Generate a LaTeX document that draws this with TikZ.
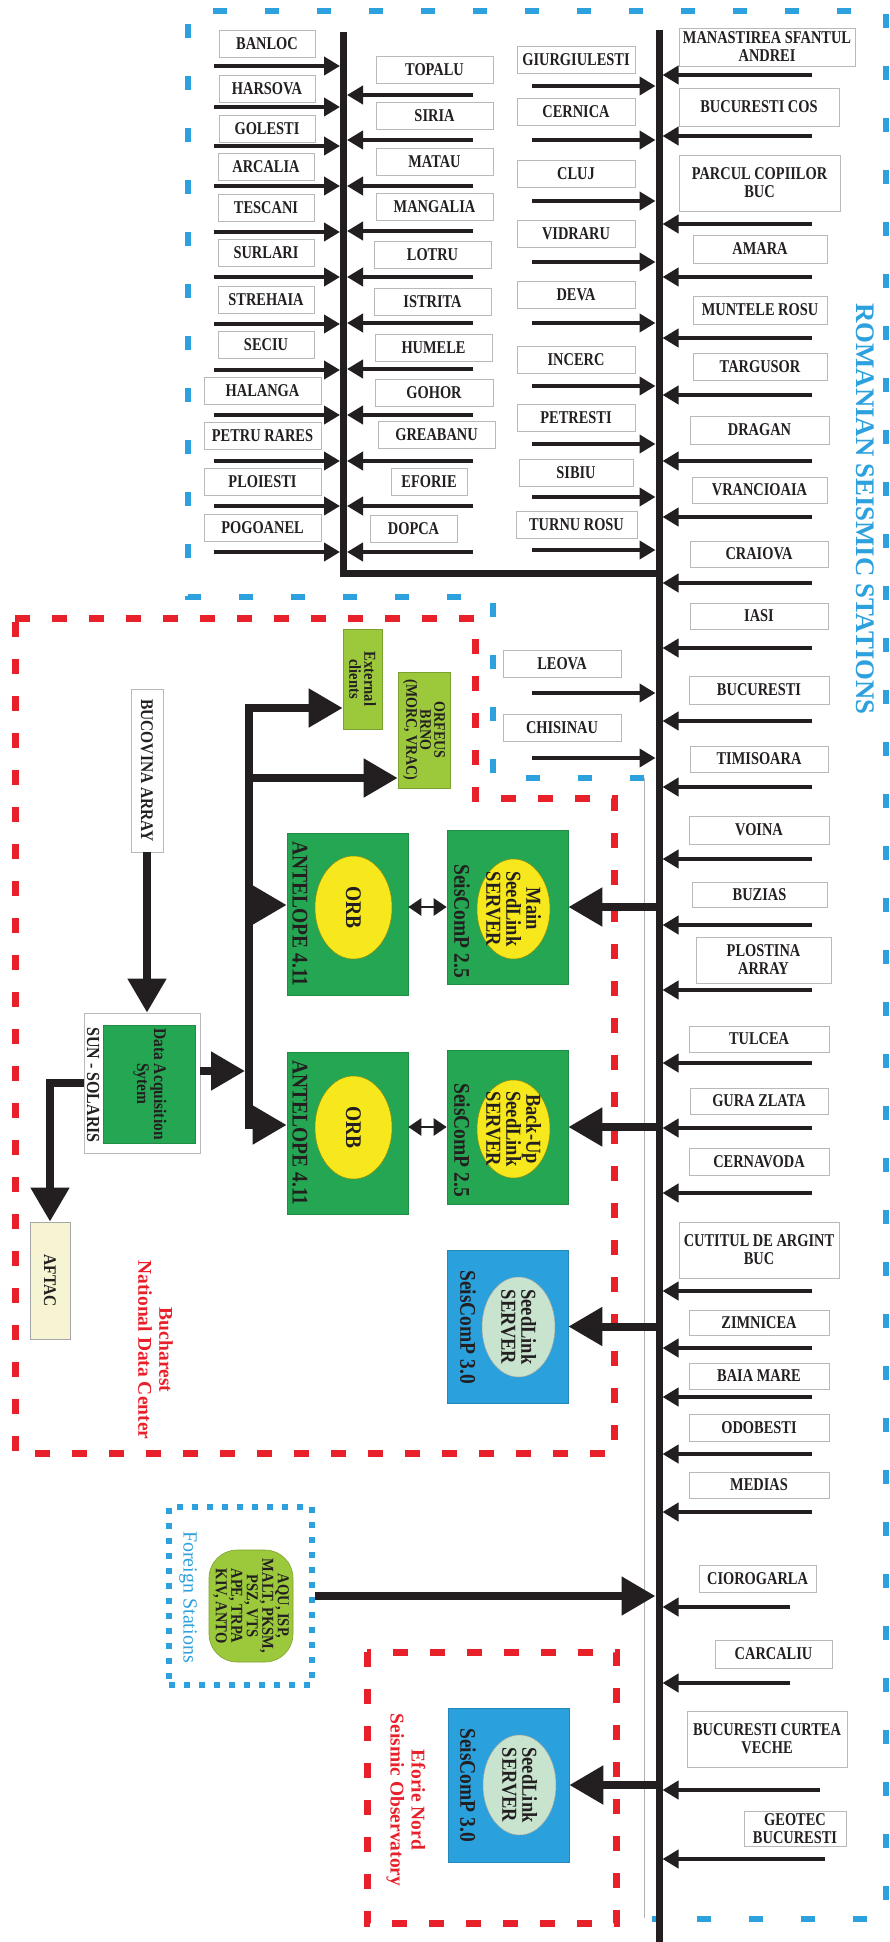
\documentclass[tikz,border=0pt]{standalone}
\usepackage{fontspec}
\setmainfont{Liberation Serif}
\newfontfamily\condserif[FakeStretch=0.8]{Liberation Serif}
\newfontfamily\servserif[FakeStretch=0.87]{Liberation Serif}
\usepackage{xcolor}
\usetikzlibrary{arrows.meta}
\usetikzlibrary{shapes.geometric}

\definecolor{ink}{RGB}{35,31,32}
\definecolor{seisblue}{RGB}{45,160,222}
\definecolor{ndcred}{RGB}{232,32,42}
\definecolor{boxgreen}{RGB}{36,166,82}
\definecolor{limegreen}{RGB}{156,201,60}
\definecolor{orbyellow}{RGB}{246,232,28}
\definecolor{scpblue}{RGB}{42,160,220}
\definecolor{mint}{RGB}{200,228,206}
\definecolor{cream}{RGB}{247,244,212}

\newcommand{\stationfont}{\condserif\fontsize{18}{18}\selectfont\bfseries}
\newcommand{\acqfont}{\servserif\fontsize{17.8}{17}\selectfont\bfseries}
\newcommand{\clientfont}{\servserif\fontsize{16.7}{15}\selectfont\bfseries}
\newcommand{\slfont}{\servserif\fontsize{21.3}{20}\selectfont\bfseries}
\newcommand{\serverfont}{\servserif\fontsize{22.4}{21}\selectfont\bfseries}
\newcommand{\regionfont}{\fontsize{19.5}{21}\selectfont\bfseries}

\tikzset{
    station/.style={draw=gray!55, line width=0.8pt, fill=white, text=ink,
        font=\stationfont, inner sep=1pt, align=center},
    stalk/.style={draw=ink, line width=4pt,
        -{Triangle[length=16pt, width=18pt]}, shorten >=3.5pt},
    bigarrow/.style={draw=ink, line width=8pt,
        -{Triangle[length=34pt, width=37pt]}},
    twoway/.style={draw=ink, line width=2.5pt,
        {Triangle[length=13pt, width=17pt]}-{Triangle[length=13pt, width=17pt]}},
    bus/.style={draw=ink, line width=7pt},
    vtext/.style={rotate=-90, text=ink, align=center, inner sep=0pt},
    greenbox/.style={fill=boxgreen, draw=boxgreen!85!black, line width=0.6pt, inner sep=0pt},
    bluebox/.style={fill=scpblue, draw=scpblue!85!black, line width=0.6pt, inner sep=0pt},
    disc/.style={ellipse, draw=orbyellow!60!black, line width=0.5pt, inner sep=0pt},
    bluedash/.style={draw=seisblue, line width=6.5pt, dash pattern=on 14pt off 38pt},
    reddash/.style={draw=ndcred, line width=7pt, dash pattern=on 15pt off 22pt},
    bluedot/.style={draw=seisblue, line width=6pt, dash pattern=on 6pt off 9pt}
}

\begin{document}
\begin{tikzpicture}[x=1pt, y=-1pt]
    \useasboundingbox (0,0) rectangle (889,1942);

    % Region outlines
    \draw[bluedash] (644,778) -- (493,778) -- (493,597) -- (188,597) -- (188,11)
        -- (886,11) -- (886,1919) -- (652,1919);
    \draw[gray!60, line width=0.8pt] (644,778) -- (644,1918);
    \draw[reddash] (15,618) -- (475,618) -- (475,798) -- (614,798) -- (614,1453)
        -- (15,1453) -- cycle;
    \draw[reddash] (367,1652) rectangle (616,1923);

    % Region titles
    \node[vtext, text=seisblue, font=\fontsize{26.8}{28}\selectfont\bfseries] (rsstitle)
        at (865,509) {ROMANIAN SEISMIC STATIONS};
    \node[vtext, text=ndcred, font=\regionfont] (ndctitle) at (155.5,1350)
        {Bucharest\\National Data Center};
    \node[vtext, text=ndcred, font=\regionfont] (eftitle) at (406,1800)
        {Eforie Nord\\Seismic Observatory};

    % Buses
    \coordinate (lbusT) at (343.5,32);
    \coordinate (lbusB) at (343.5,573);
    \coordinate (mbusT) at (659,30);
    \coordinate (mbusB) at (659,1942);

    % Stations feeding the left bus from the left
    \foreach \lab/\xl/\xr/\yc/\ya [count=\i] in {BANLOC/219/315/44/66,
        HARSOVA/219/315/89/107, GOLESTI/219/315/129/146, ARCALIA/218/314/167/186,
        TESCANI/218/314/208/232, SURLARI/218/314/253/277, STREHAIA/218/314/300/324,
        SECIU/218/314/345/370, HALANGA/204/321/391/415, PETRU RARES/204/321/436/461,
        PLOIESTI/204/321/482/506, POGOANEL/204/321/528/552}{
        \pgfmathsetmacro{\bw}{\xr-\xl}
        \pgfmathsetmacro{\bx}{(\xl+\xr)/2}
        \node[station, minimum width=\bw pt, minimum height=27pt] (a\i) at (\bx,\yc) {\lab};
        \coordinate (a\i-in) at (214,\ya);
        \draw[stalk] (a\i-in) -- (a\i-in -| lbusT);
    }

    % Stations feeding the left bus from the right
    \foreach \lab/\xl/\xr/\yc/\ya [count=\i] in {TOPALU/376/493/70/95,
        SIRIA/376/493/116/140, MATAU/376/493/162/186, MANGALIA/376/493/207/231,
        LOTRU/374/491/255/277, ISTRITA/374/491/302/323, HUMELE/375/492/348/369,
        GOHOR/375/493/393/415, GREABANU/378/495/435/461, EFORIE/391/467/482/506,
        DOPCA/370/457/529/552}{
        \pgfmathsetmacro{\bw}{\xr-\xl}
        \pgfmathsetmacro{\bx}{(\xl+\xr)/2}
        \node[station, minimum width=\bw pt, minimum height=27pt] (b\i) at (\bx,\yc) {\lab};
        \coordinate (b\i-in) at (473,\ya);
        \draw[stalk] (b\i-in) -- (b\i-in -| lbusT);
    }

    % Stations feeding the main bus from the left
    \foreach \lab/\xl/\xr/\yc/\ya [count=\i] in {GIURGIULESTI/517/635/60/86,
        CERNICA/517/635/112/140, CLUJ/517/635/174/201, VIDRARU/517/635/234/262,
        DEVA/517/635/295/323, INCERC/517/635/360/386, PETRESTI/517/635/418/444,
        SIBIU/519/633/473/497, TURNU ROSU/516/637/525/550,
        LEOVA/503/621/664/693, CHISINAU/503/621/728/758}{
        \pgfmathsetmacro{\bw}{\xr-\xl}
        \pgfmathsetmacro{\bx}{(\xl+\xr)/2}
        \node[station, minimum width=\bw pt, minimum height=27pt] (c\i) at (\bx,\yc) {\lab};
        \coordinate (c\i-in) at (532,\ya);
        \draw[stalk] (c\i-in) -- (c\i-in -| mbusT);
    }

    % Stations feeding the main bus from the right
    \foreach \lab/\xl/\xr/\yc/\bh/\ya/\xs [count=\i] in {
        {MANASTIREA SFANTUL\\ANDREI}/679/855/47/38/75/812,
        BUCURESTI COS/679/839/107/38/136/812,
        {PARCUL COPIILOR\\BUC}/679/840/183/56/224/812,
        AMARA/693/827/249/28/277/812, MUNTELE ROSU/693/827/310/28/338/812,
        TARGUSOR/693/827/367/27/395/812, DRAGAN/690/829/430/28/461/812,
        VRANCIOAIA/692/827/490/26/517/812, CRAIOVA/690/828/554/26/583/812,
        IASI/690/828/616/26/648/812, BUCURESTI/689/829/690/28/721/812,
        TIMISOARA/690/828/759/26/787/812, VOINA/689/829/830/28/859/812,
        BUZIAS/692/827/895/25/925/812, {PLOSTINA\\ARRAY}/696/831/960/46/990/812,
        TULCEA/689/829/1039/26/1063/812, GURA ZLATA/690/828/1101/26/1128/812,
        CERNAVODA/689/829/1162/27/1193/812,
        {CUTITUL DE ARGINT\\BUC}/679/839/1250/56/1291/812,
        ZIMNICEA/689/829/1323/25/1348/812, BAIA MARE/689/829/1376/26/1397/812,
        ODOBESTI/689/829/1428/27/1454/812, MEDIAS/689/829/1485/26/1512/812,
        CIOROGARLA/699/816/1579/27/1607/790, CARCALIU/715/832/1654/28/1683/790,
        {BUCURESTI CURTEA\\VECHE}/687/847/1739/56/1790/820,
        {GEOTEC\\BUCURESTI}/744/846/1829/35/1859/825}{
        \pgfmathsetmacro{\bw}{\xr-\xl}
        \pgfmathsetmacro{\bx}{(\xl+\xr)/2}
        \node[station, minimum width=\bw pt, minimum height=\bh pt] (d\i) at (\bx,\yc) {\lab};
        \coordinate (d\i-in) at (\xs,\ya);
        \draw[stalk] (d\i-in) -- (d\i-in -| mbusT);
    }

    % Acquisition
    \node[draw=gray!55, line width=0.8pt, fill=white, minimum width=116pt,
        minimum height=140pt] (daq) at (142,1083) {};
    \node[greenbox, minimum width=92pt, minimum height=118pt] (daqcore) at (149,1084) {};
    \node[vtext, font=\acqfont] (daqtext) at (150,1084) {Data Acquisition\\Sytem};
    \node[vtext, font=\servserif\fontsize{18.4}{17}\selectfont\bfseries] (sunos) at (93,1085) {SUN - SOLARIS};
    \node[vtext, draw=gray!55, line width=0.8pt, fill=white, font=\acqfont,
        minimum width=163pt, minimum height=32pt] (bucovina) at (147,770.5) {BUCOVINA ARRAY};
    \node[vtext, draw=gray!70, line width=0.8pt, fill=cream, font=\acqfont,
        minimum width=117pt, minimum height=40pt] (aftac) at (50,1280.5) {AFTAC};

    % Clients
    \node[vtext, fill=limegreen, draw=limegreen!80!black, line width=0.6pt, font=\clientfont,
        minimum width=100pt, minimum height=39pt] (ext) at (362.5,679) {External\\clients};
    \node[vtext, fill=limegreen, draw=limegreen!80!black, line width=0.6pt,
        font=\servserif\fontsize{16.1}{14}\selectfont\bfseries,
        minimum width=116pt, minimum height=52pt] (orfeus) at (424,730) {ORFEUS\\BRNO\\(MORC, VRAC)};

    % Antelope
    \node[greenbox, minimum width=121pt, minimum height=162pt] (ant1) at (347.5,914) {};
    \node[disc, fill=orbyellow, minimum width=77pt, minimum height=103pt] (orb1) at (353.5,907.5) {};
    \node[vtext, font=\serverfont] (orb1text) at (orb1) {ORB};
    \node[vtext, font=\serverfont] (ant1text) at (300,914) {ANTELOPE 4.11};
    \node[greenbox, minimum width=121pt, minimum height=162pt] (ant2) at (347.5,1133.5) {};
    \node[disc, fill=orbyellow, minimum width=77pt, minimum height=103pt] (orb2) at (353.5,1127.5) {};
    \node[vtext, font=\serverfont] (orb2text) at (orb2) {ORB};
    \node[vtext, font=\serverfont] (ant2text) at (300,1133) {ANTELOPE 4.11};

    % SeedLink servers
    \node[greenbox, minimum width=121pt, minimum height=154pt] (mainsl) at (507.5,907) {};
    \node[disc, fill=orbyellow, minimum width=73pt, minimum height=100pt] (mainorb) at (513.5,909) {};
    \node[vtext, font=\slfont] (maintext) at (mainorb) {Main\\SeedLink\\SERVER};
    \node[vtext, font=\serverfont] (mainscp) at (462,921) {SeisComP 2.5};
    \node[greenbox, minimum width=121pt, minimum height=154pt] (backsl) at (507.5,1127) {};
    \node[disc, fill=orbyellow, minimum width=73pt, minimum height=98pt] (backorb) at (513.5,1129) {};
    \node[vtext, font=\slfont] (backtext) at (backorb) {Back-Up\\SeedLink\\SERVER};
    \node[vtext, font=\serverfont] (backscp) at (462,1140) {SeisComP 2.5};
    \node[bluebox, minimum width=121pt, minimum height=153pt] (ndcsl) at (507.5,1326.5) {};
    \node[disc, draw=gray!70, fill=mint, minimum width=73pt, minimum height=100pt] (ndcorb) at (518.5,1327) {};
    \node[vtext, font=\slfont] (ndctext) at (ndcorb) {SeedLink\\SERVER};
    \node[vtext, font=\serverfont] (ndcscp) at (468,1327) {SeisComP 3.0};
    \node[bluebox, minimum width=121pt, minimum height=154pt] (efsl) at (508.5,1785) {};
    \node[disc, draw=gray!70, fill=mint, minimum width=73pt, minimum height=100pt] (eforb) at (519.5,1785) {};
    \node[vtext, font=\slfont] (eftext) at (eforb) {SeedLink\\SERVER};
    \node[vtext, font=\serverfont] (efscp) at (468,1785) {SeisComP 3.0};

    % Foreign stations
    \node[bluedot, minimum width=143pt, minimum height=178pt] (fsbox) at (240.5,1596) {};
    \node[vtext, text=seisblue, font=\fontsize{20}{21}\selectfont] (fstitle) at (188,1597) {Foreign Stations};
    \node[vtext, fill=limegreen, draw=limegreen!80!black, line width=0.6pt, rounded corners=28pt,
        font=\servserif\fontsize{16.7}{15.5}\selectfont\bfseries, minimum width=112pt, minimum height=84pt]
        (foreign) at (251,1606) {AQU, ISP,\\MALT, PKSM,\\PSZ, VTS\\APE, TRPA\\KIV, ANTO};

    % Data flow
    \coordinate (trunkT) at (249,708);
    \coordinate (trunkB) at (249,1125);
    \coordinate (tap1) at (249,778);
    \coordinate (tap2) at (249,905);
    \coordinate (tap3) at (249,1071);
    \draw[bigarrow] (bucovina.east) -- (bucovina.east |- daq.north);
    \draw[bigarrow] (daq.west) -| (aftac.west);
    \draw[bigarrow, shorten >=4pt] (daq.east |- tap3) -- (tap3);
    \draw[bigarrow] (trunkB) -- (trunkT) -- (trunkT -| ext.south);
    \draw[bigarrow] (trunkT) -- (trunkB) -- (trunkB -| ant2.west);
    \draw[bigarrow] (tap1) -- (tap1 -| orfeus.south);
    \draw[bigarrow] (tap2) -- (tap2 -| ant1.west);
    \draw[twoway] (ant1.east |- mainsl.west) -- (mainsl.west);
    \draw[twoway] (ant2.east |- backsl.west) -- (backsl.west);
    \draw[bigarrow] (mbusT |- mainsl.east) -- (mainsl.east);
    \draw[bigarrow] (mbusT |- backsl.east) -- (backsl.east);
    \draw[bigarrow] (mbusT |- ndcsl.east) -- (ndcsl.east);
    \draw[bigarrow] (mbusT |- efsl.east) -- (efsl.east);
    \draw[bigarrow, shorten >=3.5pt] (fsbox.east) -- (fsbox.east -| mbusT);

    % Buses on top
    \draw[bus] (lbusT) -- (lbusB) -- (lbusB -| mbusT);
    \draw[bus] (mbusT) -- (mbusB);
\end{tikzpicture}
\end{document}
